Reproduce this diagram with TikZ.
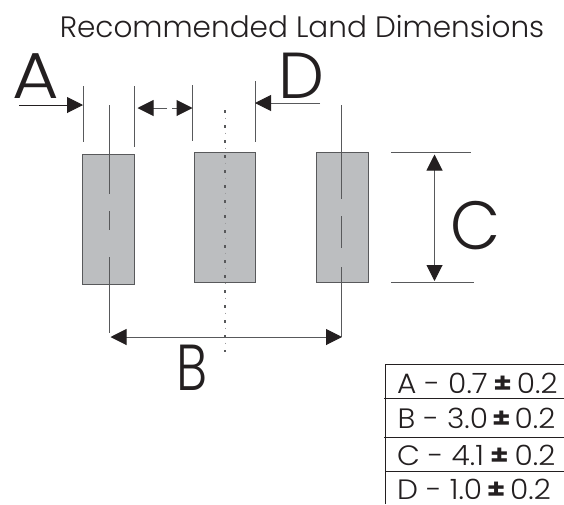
\documentclass[tikz,border=0pt]{standalone}
\usepackage{fontspec}
\setmainfont{Poppins}[UprightFont=* Light,BoldFont=* SemiBold]
\usetikzlibrary{arrows.meta}
\definecolor{padgrey}{HTML}{BCBEC0}
\definecolor{linegrey}{HTML}{58595B}
\definecolor{inkblack}{HTML}{231F20}
\tikzset{
    landpad/.style={draw=linegrey, fill=padgrey, line width=1pt, minimum height=130pt, outer sep=0pt, inner sep=0pt},
    dimline/.style={draw=linegrey, line width=1pt},
    dimarrow/.style={dimline, -{Triangle[length=16pt,width=16pt,inkblack]}},
    twoarrow/.style={dimline, {Triangle[length=16pt,width=16pt,inkblack]}-{Triangle[length=16pt,width=16pt,inkblack]}},
    bigletter/.style={text=inkblack, anchor=base, inner sep=0pt, font=\fontsize{65}{65}\selectfont},
    tablerow/.style={text=inkblack, anchor=base west, inner sep=0pt, xscale=1.06, font=\fontsize{28}{28}\selectfont},
}
\begin{document}
\begin{tikzpicture}[x=1pt, y=-1pt]
    \useasboundingbox (0,0) rectangle (564,504);

    \node[text=inkblack, anchor=base, inner sep=0pt, font=\fontsize{29.5}{30}\selectfont] (title) at (302,37) {Recommended Land Dimensions};

    \node[landpad, minimum width=51.6pt] (padL) at (108.5,219.3) {};
    \node[landpad, minimum width=60.6pt] (padM) at (225,217.3) {};
    \node[landpad, minimum width=51.6pt] (padR) at (342.5,217.7) {};

    \coordinate (extAa) at (83,86);
    \coordinate (extAb) at (83,142);
    \coordinate (extBa) at (134.3,86);
    \coordinate (extBb) at (134.3,147);
    \coordinate (extCa) at (192.5,85);
    \coordinate (extCb) at (192.5,141);
    \coordinate (extDa) at (255,81);
    \coordinate (extDb) at (255,142);
    \draw[dimline] (extAa) -- (extAb);
    \draw[dimline] (extBa) -- (extBb);
    \draw[dimline] (extCa) -- (extCb);
    \draw[dimline] (extDa) -- (extDb);

    \coordinate (leftTop) at (109.7,105);
    \coordinate (leftEnd) at (109.7,193.7);
    \coordinate (leftDashA) at (109.7,211);
    \coordinate (leftDashB) at (109.7,230);
    \coordinate (leftLow) at (109.7,257);
    \coordinate (leftFoot) at (109.7,333);
    \draw[dimline] (leftTop) -- (leftEnd);
    \draw[dimline] (leftDashA) -- (leftDashB);
    \draw[dimline] (leftLow) -- (leftFoot);

    \coordinate (rightTop) at (341.7,105);
    \coordinate (rightEnd) at (341.7,198.7);
    \coordinate (rightDashA) at (341.7,216);
    \coordinate (rightDashB) at (341.7,248);
    \coordinate (rightLow) at (341.7,267);
    \coordinate (rightFoot) at (341.7,337);
    \draw[dimline] (rightTop) -- (rightEnd);
    \draw[dimline] (rightDashA) -- (rightDashB);
    \draw[dimline] (rightLow) -- (rightFoot);

    \coordinate (midTop) at (225,110);
    \coordinate (midLight) at (225,117.5);
    \coordinate (midFoot) at (225,352);
    \draw[dimline, line width=1.4pt, dash pattern=on 2.5pt off 12.5pt] (midTop) -- (midFoot);
    \draw[dimline, draw=linegrey!60, line width=0.7pt, dash pattern=on 1pt off 14pt] (midLight) -- (midFoot);

    \coordinate (arrowAfrom) at (19,105);
    \coordinate (arrowAto) at (83,105);
    \coordinate (gapLeftFrom) at (167,108);
    \coordinate (gapLeftTo) at (137.5,108);
    \coordinate (gapRightFrom) at (172,108);
    \coordinate (gapRightTo) at (192.5,108);
    \coordinate (arrowDfrom) at (320,103);
    \coordinate (arrowDto) at (255,103);
    \draw[dimarrow, draw=inkblack] (arrowAfrom) -- (arrowAto);
    \draw[dimarrow] (gapLeftFrom) -- (gapLeftTo);
    \draw[dimarrow] (gapRightFrom) -- (gapRightTo);
    \draw[dimarrow] (arrowDfrom) -- (arrowDto);

    \coordinate (arrowBa) at (110.5,337);
    \coordinate (arrowBb) at (342,337);
    \draw[twoarrow] (arrowBa) -- (arrowBb);

    \coordinate (limitCa) at (391,152);
    \coordinate (limitCb) at (471,152);
    \coordinate (limitCc) at (391,282);
    \coordinate (limitCd) at (474,282);
    \coordinate (arrowCa) at (434.5,154.5);
    \coordinate (arrowCb) at (434.5,281);
    \draw[dimline] (limitCa) -- (limitCb);
    \draw[dimline] (limitCc) -- (limitCd);
    \draw[twoarrow] (arrowCa) -- (arrowCb);

    \node[bigletter, xscale=1.1] (labelA) at (36,98) {A};
    \node[bigletter] (labelD) at (301,98) {D};
    \node[bigletter, yscale=1.05] (labelC) at (476,249) {C};
    \node[bigletter, xscale=0.8] (labelB) at (192,390) {B};

    \coordinate (tableTop) at (385,364);
    \coordinate (tableFoot) at (385,504);
    \coordinate (tableR) at (564,364);
    \coordinate (lineAa) at (384,398.3);
    \coordinate (lineAb) at (564,398.3);
    \coordinate (lineBa) at (384,437.3);
    \coordinate (lineBb) at (564,437.3);
    \coordinate (lineCa) at (385,471.5);
    \coordinate (lineCb) at (564,471.5);
    \draw[dimline, draw=inkblack] (tableFoot) -- (tableTop) -- (tableR);
    \draw[dimline, draw=inkblack] (lineAa) -- (lineAb);
    \draw[dimline, draw=inkblack] (lineBa) -- (lineBb);
    \draw[dimline, draw=inkblack] (lineCa) -- (lineCb);

    \node[tablerow] (rowA) at (397,393) {A - 0.7\hspace{4.5pt}\textbf{±}\hspace{4pt}0.2};
    \node[tablerow] (rowB) at (397.5,428) {B - 3.0\hspace{3pt}\textbf{±}\hspace{3pt}0.2};
    \node[tablerow] (rowC) at (397,465) {C - 4.1\hspace{5pt}\textbf{±}\hspace{5pt}0.2};
    \node[tablerow] (rowD) at (397,499) {D - 1.0\hspace{3.7pt}\textbf{±}\hspace{3.7pt}0.2};
\end{tikzpicture}
\end{document}
